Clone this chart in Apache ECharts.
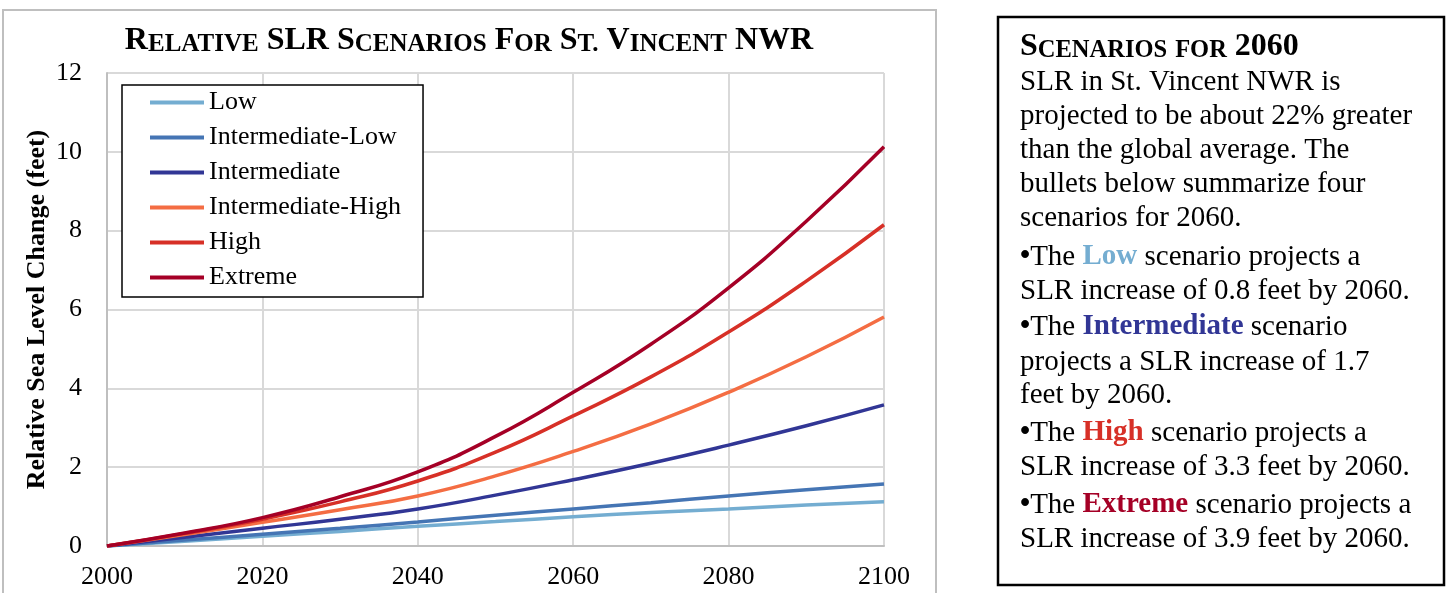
<!DOCTYPE html>
<html>
<head>
<meta charset="utf-8">
<script src="https://cdn.jsdelivr.net/npm/echarts@6/dist/echarts.min.js"></script>
<style>
  html, body { margin: 0; padding: 0; background: #fff; }
  #main { width: 1448px; height: 593px; }
</style>
</head>
<body>
<div id="main"></div>
<script>
// Relative SLR scenarios chart + text panel
var years = [2000, 2010, 2020, 2030, 2040, 2050, 2060, 2070, 2080, 2090, 2100];
var lowVals = [0, 0.12, 0.25, 0.37, 0.5, 0.62, 0.74, 0.85, 0.94, 1.04, 1.12];
var intLowVals = [0, 0.15, 0.3, 0.45, 0.61, 0.78, 0.94, 1.1, 1.27, 1.43, 1.57];
var intVals = [0, 0.22, 0.45, 0.68, 0.94, 1.29, 1.68, 2.1, 2.56, 3.05, 3.58];
var intHighVals = [0, 0.29, 0.6, 0.92, 1.27, 1.78, 2.4, 3.1, 3.9, 4.8, 5.81];
var highVals = [0, 0.32, 0.68, 1.12, 1.65, 2.38, 3.3, 4.29, 5.43, 6.72, 8.15];
var extremeVals = [0, 0.33, 0.72, 1.25, 1.88, 2.78, 3.9, 5.12, 6.55, 8.24, 10.13];

var seriesNames = ["Low", "Intermediate-Low", "Intermediate", "Intermediate-High", "High", "Extreme"];
var seriesColors = ["#74add1", "#4575b4", "#313695", "#f46d43", "#d73027", "#a50026"];
var seriesVals = [lowVals, intLowVals, intVals, intHighVals, highVals, extremeVals];

var chartTitle = "Relative SLR Scenarios For St. Vincent NWR";
var panelTitle = "Scenarios for 2060";

var serif = "'Liberation Serif', 'Times New Roman', serif";

// small caps -> rich text tokens (upper = big, lower = small upper)
function smallCaps(str) {
  var out = "";
  var cur = null, buf = "";
  for (var i = 0; i < str.length; i++) {
    var ch = str[i];
    var kind = (ch >= "a" && ch <= "z") || ch === "." ? "s" : "b";
    if (kind !== cur && buf) { out += "{" + cur + "|" + buf + "}"; buf = ""; }
    cur = kind;
    buf += kind === "s" ? ch.toUpperCase() : ch;
  }
  if (buf) out += "{" + cur + "|" + buf + "}";
  return out;
}

var myChart = echarts.init(document.getElementById("main"));

var series = seriesNames.map(function (name, i) {
  return {
    name: name,
    type: "line",
    smooth: 0.5,
    symbol: "none",
    lineStyle: { width: 3.5, color: seriesColors[i] },
    itemStyle: { color: seriesColors[i] },
    data: years.map(function (y, j) { return [y, seriesVals[i][j]]; }),
  };
});

// text panel lines: [text, baseline]
var panelLines = [
  ["SLR in St. Vincent NWR is", 92],
  ["projected to be about 22% greater", 126],
  ["than the global average. The", 160],
  ["bullets below summarize four", 194],
  ["scenarios for 2060.", 228],
  ["{bul|\u2022}The {low|Low} scenario projects a", 267],
  ["SLR increase of 0.8 feet by 2060.", 301],
  ["{bul|\u2022}The {mid|Intermediate} scenario", 337],
  ["projects a SLR increase of 1.7", 372],
  ["feet by 2060.", 405],
  ["{bul|\u2022}The {high|High} scenario projects a", 443],
  ["SLR increase of 3.3 feet by 2060.", 477],
  ["{bul|\u2022}The {ext|Extreme} scenario projects a", 515],
  ["SLR increase of 3.9 feet by 2060.", 549],
];

var boldRich = function (c) {
  return { fontFamily: serif, fontSize: 29, fontWeight: "bold", fill: c, color: c };
};

var graphics = [
  {
    type: "rect",
    shape: { x: 3, y: 10, width: 933, height: 620 },
    style: { fill: null, stroke: "#bfbfbf", lineWidth: 2 },
    z: -10,
  },
  {
    type: "rect",
    shape: { x: 998, y: 17, width: 446, height: 568 },
    style: { fill: null, stroke: "#000", lineWidth: 2.5 },
  },
  {
    type: "text",
    x: 469,
    y: 41,
    style: {
      text: smallCaps(chartTitle),
      align: "center",
      verticalAlign: "middle",
      rich: {
        b: { fontFamily: serif, fontSize: 32, fontWeight: "bold", lineHeight: 32, fill: "#000", verticalAlign: "bottom" },
        s: { fontFamily: serif, fontSize: 25, fontWeight: "bold", lineHeight: 27.2, fill: "#000", verticalAlign: "bottom" },
      },
    },
  },
  {
    type: "text",
    x: 1020,
    y: 47,
    style: {
      text: smallCaps(panelTitle),
      align: "left",
      verticalAlign: "middle",
      rich: {
        b: { fontFamily: serif, fontSize: 32, fontWeight: "bold", lineHeight: 32, fill: "#000", verticalAlign: "bottom" },
        s: { fontFamily: serif, fontSize: 24.5, fontWeight: "bold", lineHeight: 26.9, fill: "#000", verticalAlign: "bottom" },
      },
    },
  },
];

panelLines.forEach(function (ln) {
  graphics.push({
    type: "text",
    x: 1020,
    y: ln[1] - 10,
    style: {
      text: ln[0],
      font: "29px " + serif,
      fill: "#000",
      align: "left",
      verticalAlign: "middle",
      rich: {
        bul: { fontFamily: serif, fontSize: 29, fontWeight: "bold", fill: "#000" },
        low: boldRich("#74add1"),
        mid: boldRich("#313695"),
        high: boldRich("#d73027"),
        ext: boldRich("#a50026"),
      },
    },
  });
});

var option = {
  animation: false,
  backgroundColor: "#fff",
  textStyle: { fontFamily: serif },
  grid: { left: 107, right: 564, top: 73, bottom: 47, containLabel: false },
  legend: {
    data: seriesNames,
    orient: "vertical",
    left: 122,
    top: 85,
    padding: [0, 22, 2, 28],
    itemGap: 0,
    itemWidth: 54,
    itemHeight: 4,
    icon: "rect",
    borderColor: "#000",
    borderWidth: 1.5,
    backgroundColor: "#fff",
    textStyle: { fontFamily: serif, fontSize: 26, color: "#000", lineHeight: 35 },
  },
  xAxis: {
    type: "value",
    min: 2000,
    max: 2100,
    interval: 20,
    axisLine: { show: true, lineStyle: { color: "#bfbfbf", width: 2 } },
    axisTick: { show: false },
    splitLine: { show: true, lineStyle: { color: "#d9d9d9", width: 2 } },
    axisLabel: {
      fontFamily: serif, fontSize: 26, color: "#000", margin: 18,
      formatter: function (v) { return String(v); },
    },
  },
  yAxis: {
    type: "value",
    min: 0,
    max: 12,
    interval: 2,
    name: "Relative Sea Level Change (feet)",
    nameLocation: "middle",
    nameGap: 57,
    nameMoveOverlap: false,
    nameTextStyle: { fontFamily: serif, fontSize: 26, fontWeight: "bold", color: "#000" },
    axisLine: { show: true, lineStyle: { color: "#bfbfbf", width: 2 } },
    axisTick: { show: false },
    splitLine: { show: true, lineStyle: { color: "#d9d9d9", width: 2 } },
    axisLabel: { fontFamily: serif, fontSize: 26, color: "#000", margin: 25 },
  },
  graphic: graphics,
  series: series,
};

myChart.setOption(option);

window.addEventListener("resize", function () {
  myChart.resize();
});
</script>
</body>
</html>
